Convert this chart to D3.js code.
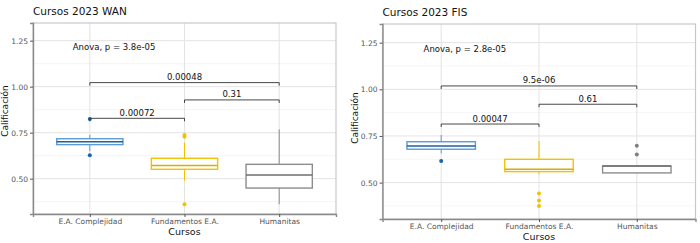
<!DOCTYPE html>
<html>
<head>
<meta charset="utf-8">
<script src="https://cdn.jsdelivr.net/npm/d3@7"></script>
<style>
  body { margin: 0; background: #fff; }
  svg { display: block; font-family: "DejaVu Sans", sans-serif; }
</style>
</head>
<body>
<svg width="700" height="243"></svg>
<script>
// categories shared by both panels
const cursos = ["E.A. Complejidad", "Fundamentos E.A.", "Humanitas"];
const yTicks = [0.5, 0.75, 1.0, 1.25];
const minorTicks = [0.375, 0.625, 0.875, 1.125];

// WAN panel box stats
const wanLow    = [0.649, 0.489, 0.361];
const wanQ1     = [0.685, 0.551, 0.449];
const wanMedian = [0.701, 0.571, 0.520];
const wanQ3     = [0.717, 0.611, 0.578];
const wanHigh   = [0.738, 0.696, 0.768];
const wanOutliers = [[0.824, 0.627], [0.728, 0.738, 0.361], []];
const wanPairs  = [[0, 1], [0, 2], [1, 2]];
const wanPLabels = ["0.00072", "0.00048", "0.31"];
const wanPY     = [0.828, 1.022, 0.928];
const wanAnova  = "Anova, p = 3.8e-05";

// FIS panel box stats
const fisLow    = [0.657, 0.545, 0.552];
const fisQ1     = [0.679, 0.559, 0.552];
const fisMedian = [0.696, 0.572, 0.589];
const fisQ3     = [0.719, 0.625, 0.589];
const fisHigh   = [0.755, 0.723, 0.589];
const fisOutliers = [[0.616], [0.441, 0.404, 0.374], [0.698, 0.650]];
const fisPairs  = [[0, 1], [0, 2], [1, 2]];
const fisPLabels = ["0.00047", "9.5e-06", "0.61"];
const fisPY     = [0.814, 1.018, 0.920];
const fisAnova  = "Anova, p = 2.8e-05";

const boxColors = ["#5b9bd5", "#f2c200", "#8c8c8c"];
const medColors = ["#1f5f9f", "#d9ae00", "#6e6e6e"];
const dotColors = ["#1565b0", "#f2c200", "#7f7f7f"];

const svg = d3.select("svg");

function drawPanel(p) {
    const g = svg.append("g");

    const x = d3.scalePoint().domain(cursos).range([p.left, p.right]).padding(0.6);
    const y = d3.scaleLinear().domain(p.yDomain).range([p.bottom, p.top]);
    const step = x.step();
    const bw = step * 0.7;

    // grid
    g.selectAll(".minor").data(minorTicks).enter().append("line")
        .attr("x1", p.left).attr("x2", p.right)
        .attr("y1", d => y(d)).attr("y2", d => y(d))
        .attr("stroke", "#f0f0f0").attr("stroke-width", 0.7);
    g.selectAll(".major").data(yTicks).enter().append("line")
        .attr("x1", p.left).attr("x2", p.right)
        .attr("y1", d => y(d)).attr("y2", d => y(d))
        .attr("stroke", "#e3e3e3").attr("stroke-width", 1);
    g.selectAll(".vgrid").data(cursos).enter().append("line")
        .attr("x1", d => x(d)).attr("x2", d => x(d))
        .attr("y1", p.top).attr("y2", p.bottom)
        .attr("stroke", "#e3e3e3").attr("stroke-width", 1);

    // frame
    g.append("rect")
        .attr("x", p.left).attr("y", p.top)
        .attr("width", p.right - p.left).attr("height", p.bottom - p.top)
        .attr("fill", "none").attr("stroke", "#c8c8c8").attr("stroke-width", 1.2);

    // boxplots
    cursos.forEach((c, i) => {
        const cx = x(c);
        g.append("line")
            .attr("x1", cx).attr("x2", cx)
            .attr("y1", y(p.high[i])).attr("y2", y(p.q3[i]))
            .attr("stroke", boxColors[i]).attr("stroke-width", 1);
        g.append("line")
            .attr("x1", cx).attr("x2", cx)
            .attr("y1", y(p.q1[i])).attr("y2", y(p.low[i]))
            .attr("stroke", boxColors[i]).attr("stroke-width", 1);
        g.append("rect")
            .attr("x", cx - bw / 2).attr("y", y(p.q3[i]))
            .attr("width", bw).attr("height", Math.max(0.5, y(p.q1[i]) - y(p.q3[i])))
            .attr("fill", "#fff").attr("stroke", boxColors[i]).attr("stroke-width", 1.4);
        g.append("line")
            .attr("x1", cx - bw / 2).attr("x2", cx + bw / 2)
            .attr("y1", y(p.median[i])).attr("y2", y(p.median[i]))
            .attr("stroke", medColors[i]).attr("stroke-width", 1.5);
        g.selectAll(null).data(p.outliers[i]).enter().append("circle")
            .attr("cx", cx).attr("cy", d => y(d)).attr("r", 2)
            .attr("fill", dotColors[i]);
    });

    // comparison brackets
    p.pairs.forEach((pr, k) => {
        const x1 = x(cursos[pr[0]]), x2 = x(cursos[pr[1]]), yy = y(p.pY[k]);
        g.append("path")
            .attr("d", `M${x1},${yy + 3}V${yy}H${x2}V${yy + 3}`)
            .attr("fill", "none").attr("stroke", "#333").attr("stroke-width", 0.9);
        g.append("text")
            .attr("x", (x1 + x2) / 2).attr("y", yy - 2.5)
            .attr("text-anchor", "middle")
            .style("font-size", "8.5px").style("fill", "#111")
            .text(p.pLabels[k]);
    });

    // anova label
    g.append("text")
        .attr("x", x(cursos[0]) - step * 0.18).attr("y", y(1.214))
        .attr("dy", "0.35em")
        .style("font-size", "8.5px").style("fill", "#111")
        .text(p.anova);

    // axes
    const yAxis = g.append("g")
        .attr("transform", `translate(${p.left},0)`)
        .call(d3.axisLeft(y).tickValues(yTicks).tickFormat(d3.format(".2f")).tickSize(3).tickPadding(2));
    yAxis.select(".domain").attr("stroke", "#8a8a8a").attr("stroke-width", 1.4);
    yAxis.selectAll(".tick line").attr("stroke", "#555");
    yAxis.selectAll("text").style("font-size", "7.5px").style("fill", "#555").style("font-family", "DejaVu Sans");

    const xAxis = g.append("g")
        .attr("transform", `translate(0,${p.bottom})`)
        .call(d3.axisBottom(x).tickSize(3).tickPadding(2));
    xAxis.select(".domain").attr("stroke", "#8a8a8a").attr("stroke-width", 1.4);
    xAxis.selectAll(".tick line").attr("stroke", "#555");
    xAxis.selectAll("text").style("font-size", "7.5px").style("fill", "#555").style("font-family", "DejaVu Sans");

    // titles
    g.append("text")
        .attr("x", p.left).attr("y", p.top - 8)
        .style("font-size", "10.5px").style("fill", "#111")
        .text(p.title);
    g.append("text")
        .attr("x", (p.left + p.right) / 2).attr("y", p.bottom + 21)
        .attr("text-anchor", "middle")
        .style("font-size", "9.5px").style("fill", "#111")
        .text("Cursos");
    g.append("text")
        .attr("transform", `translate(${p.left - 25},${p.labelY}) rotate(-90)`)
        .attr("text-anchor", "middle")
        .style("font-size", "9px").style("fill", "#111")
        .text("Calificación");
}

drawPanel({
    title: "Cursos 2023 WAN", left: 33, right: 336, top: 23, bottom: 214,
    yDomain: [0.308, 1.346], labelY: 111,
    low: wanLow, q1: wanQ1, median: wanMedian, q3: wanQ3, high: wanHigh,
    outliers: wanOutliers, pairs: wanPairs, pLabels: wanPLabels, pY: wanPY, anova: wanAnova
});

drawPanel({
    title: "Cursos 2023 FIS", left: 382.5, right: 695.5, top: 24, bottom: 219,
    yDomain: [0.305, 1.35], labelY: 118,
    low: fisLow, q1: fisQ1, median: fisMedian, q3: fisQ3, high: fisHigh,
    outliers: fisOutliers, pairs: fisPairs, pLabels: fisPLabels, pY: fisPY, anova: fisAnova
});
</script>
</body>
</html>
